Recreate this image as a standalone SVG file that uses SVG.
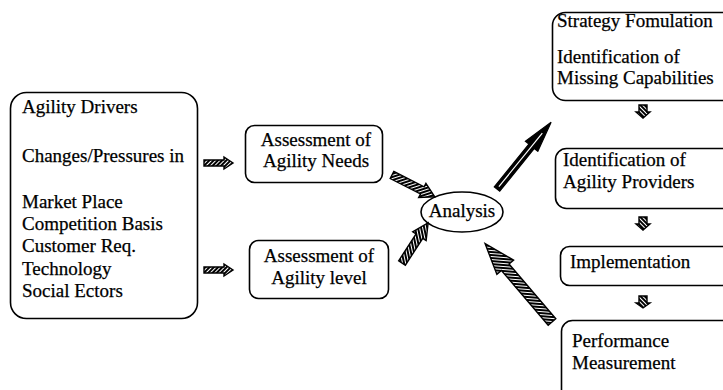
<svg xmlns="http://www.w3.org/2000/svg" width="723" height="390" viewBox="0 0 723 390">
  <style>
    .box { fill: #fff; stroke: #000; stroke-width: 1.6; }
    .t { font-family: "Liberation Serif", "Times New Roman", serif; font-size: 19px; fill: #000; stroke: #000; stroke-width: 0.25; }
    .mid { text-anchor: middle; }
    .arrow { fill: url(#hatch); stroke: #000; stroke-width: 1.4; stroke-linejoin: miter; }
    .arrow-solid { fill: #000; stroke: #000; stroke-width: 1.2; }
    .core { stroke: #fff; stroke-width: 1.2; fill: none; }
  </style>
  <defs>
    <pattern id="hatch" patternUnits="userSpaceOnUse" width="3" height="3" patternTransform="rotate(45)">
      <rect width="3" height="3" fill="#000"/>
      <rect width="1" height="3" fill="#fff"/>
    </pattern>
  </defs>

  <rect width="723" height="390" fill="#fff"/>

  <!-- Agility drivers -->
  <g id="drivers">
    <rect class="box" x="10.5" y="92.5" width="187" height="226" rx="16"/>
    <text class="t" x="22" y="113">Agility Drivers</text>
    <text class="t" x="22" y="162">Changes/Pressures in</text>
    <text class="t" x="22" y="208">Market Place</text>
    <text class="t" x="22" y="230">Competition Basis</text>
    <text class="t" x="22" y="252">Customer Req.</text>
    <text class="t" x="22" y="275">Technology</text>
    <text class="t" x="22" y="297">Social Ectors</text>
  </g>

  <g id="needs">
    <rect class="box" x="245.5" y="125.5" width="137" height="57" rx="9"/>
    <text class="t mid" x="316" y="146">Assessment of</text>
    <text class="t mid" x="316" y="167">Agility Needs</text>
  </g>

  <g id="level">
    <rect class="box" x="249.5" y="240.5" width="139" height="58" rx="9"/>
    <text class="t mid" x="319" y="262">Assessment of</text>
    <text class="t mid" x="319" y="284">Agility level</text>
  </g>

  <g id="analysis">
    <ellipse class="box" cx="462" cy="212" rx="41" ry="20"/>
    <text class="t mid" x="462" y="217">Analysis</text>
  </g>

  <g id="strategy">
    <rect class="box" x="552.5" y="12.5" width="190" height="88" rx="13"/>
    <text class="t" x="557" y="27">Strategy Fomulation</text>
    <text class="t" x="557" y="63">Identification of</text>
    <text class="t" x="557" y="84">Missing Capabilities</text>
  </g>

  <g id="providers">
    <rect class="box" x="555.5" y="148.5" width="190" height="60" rx="11"/>
    <text class="t" x="563" y="166">Identification of</text>
    <text class="t" x="563" y="188">Agility Providers</text>
  </g>

  <g id="implementation">
    <rect class="box" x="560.5" y="246.5" width="190" height="39" rx="9"/>
    <text class="t" x="570" y="268">Implementation</text>
  </g>

  <g id="performance">
    <rect class="box" x="561.5" y="320.5" width="190" height="90" rx="11"/>
    <text class="t" x="572" y="347">Performance</text>
    <text class="t" x="572" y="369">Measurement</text>
  </g>

  <!-- block arrows: drawn along +x, then placed -->
  <g id="connectors">
    <path class="arrow" transform="translate(204,163)" d="M0,-3 L20,-3 L20,-6 L29,0 L20,6 L20,3 L0,3 Z"/>
    <path class="arrow" transform="translate(204,270)" d="M0,-3 L20,-3 L20,-6 L29,0 L20,6 L20,3 L0,3 Z"/>
    <path class="arrow" transform="translate(392,175) rotate(27)" d="M0,-4 L34,-4 L34,-8 L48,0 L34,8 L34,4 L0,4 Z"/>
    <path class="arrow" transform="translate(402,263) rotate(-57)" d="M0,-4 L32,-4 L32,-8 L48,0 L32,8 L32,4 L0,4 Z"/>
    <g transform="translate(497,189) rotate(-51)">
      <path class="arrow-solid" d="M0,-3.5 L55,-3.5 L55,-8 L86,0 L55,8 L55,3.5 L0,3.5 Z"/>
      <path class="core" d="M3,0 L72,0"/>
    </g>
    <path class="arrow" transform="translate(552,322) rotate(-130.5)" d="M0,-5 L72,-5 L72,-11 L103,0 L72,11 L72,5 L0,5 Z"/>
    <path class="arrow" transform="translate(643,105) rotate(90)" d="M0,-4 L7,-4 L7,-7 L13,0 L7,7 L7,4 L0,4 Z"/>
    <path class="arrow" transform="translate(643,217) rotate(90)" d="M0,-4 L7,-4 L7,-7 L13,0 L7,7 L7,4 L0,4 Z"/>
    <path class="arrow" transform="translate(643,296) rotate(90)" d="M0,-4 L7,-4 L7,-7 L12,0 L7,7 L7,4 L0,4 Z"/>
  </g>
</svg>
